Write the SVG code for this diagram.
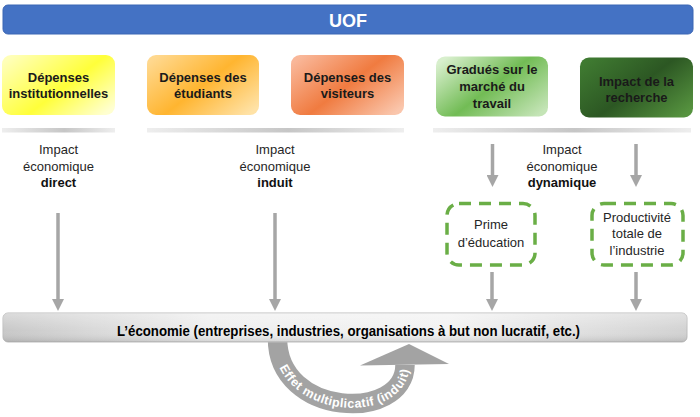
<svg xmlns="http://www.w3.org/2000/svg" width="700" height="417" viewBox="0 0 700 417">
  <style>
    .node-text { font-family: "Liberation Sans", Arial, sans-serif; font-weight: bold; font-size: 13px; fill: #1a1a1a; text-anchor: middle; }
    .lbl { font-family: "Liberation Sans", Arial, sans-serif; font-size: 13px; fill: #262626; text-anchor: middle; }
    .lbl-b { font-weight: bold; fill: #111; }
    .conn { stroke: #A6A6A6; stroke-width: 3.5; fill: none; }
    .dash { fill: #ffffff; stroke: #6AAE46; stroke-width: 3.5; stroke-dasharray: 12 8; }
  </style>
  <defs>
    <marker id="ah" viewBox="0 0 12 12" refX="6" refY="6" markerWidth="12" markerHeight="12" markerUnits="userSpaceOnUse" orient="auto">
      <path d="M0,0 L12,6 L0,12 Z" fill="#A6A6A6"/>
    </marker>
    <linearGradient id="gYellow" x1="0" y1="0.15" x2="1" y2="0.85">
      <stop offset="0" stop-color="#FFFFB8"/>
      <stop offset="0.55" stop-color="#FFFF3A"/>
      <stop offset="1" stop-color="#FFFFD0"/>
    </linearGradient>
    <linearGradient id="gOrange" x1="0" y1="0.15" x2="1" y2="0.85">
      <stop offset="0" stop-color="#FFD88E"/>
      <stop offset="0.5" stop-color="#FFB530"/>
      <stop offset="1" stop-color="#FFE2A6"/>
    </linearGradient>
    <linearGradient id="gRed" x1="0" y1="0.15" x2="1" y2="0.85">
      <stop offset="0" stop-color="#F9B799"/>
      <stop offset="0.5" stop-color="#F07B40"/>
      <stop offset="1" stop-color="#FAC6AC"/>
    </linearGradient>
    <linearGradient id="gLGreen" x1="0" y1="0.15" x2="1" y2="0.85">
      <stop offset="0" stop-color="#D8EFCD"/>
      <stop offset="0.5" stop-color="#72BC55"/>
      <stop offset="1" stop-color="#C4E4B6"/>
    </linearGradient>
    <linearGradient id="gDGreen" x1="0" y1="0.15" x2="1" y2="0.85">
      <stop offset="0" stop-color="#3F7A31"/>
      <stop offset="0.5" stop-color="#2C5723"/>
      <stop offset="1" stop-color="#56933F"/>
    </linearGradient>
    <linearGradient id="gSep" x1="0" y1="0" x2="1" y2="0">
      <stop offset="0" stop-color="#EEEEEE"/>
      <stop offset="0.55" stop-color="#C6C6C6"/>
      <stop offset="1" stop-color="#EEEEEE"/>
    </linearGradient>
    <linearGradient id="gBar" x1="0" y1="0" x2="1" y2="0">
      <stop offset="0" stop-color="#C8C8C8"/>
      <stop offset="0.3" stop-color="#EEEEEE"/>
      <stop offset="0.65" stop-color="#F2F2F2"/>
      <stop offset="1" stop-color="#D2D2D2"/>
    </linearGradient>
    <linearGradient id="gBarV" x1="0" y1="0" x2="0" y2="1">
      <stop offset="0" stop-color="#FFFFFF" stop-opacity="0.35"/>
      <stop offset="0.6" stop-color="#FFFFFF" stop-opacity="0"/>
      <stop offset="1" stop-color="#000000" stop-opacity="0.12"/>
    </linearGradient>
    <path id="curvePath" d="M 277.5 338 C 277 418, 405 422, 405 365"/>
  </defs>

  <rect width="700" height="417" fill="#ffffff"/>

  <!-- Title -->
  <g id="uof">
    <rect x="3" y="5" width="690" height="29" rx="5" fill="#4472C4" stroke="#3B66B4" stroke-width="1"/>
    <text x="348" y="26.5" font-family="Liberation Sans, Arial, sans-serif" font-weight="bold" font-size="18" fill="#ffffff" text-anchor="middle">UOF</text>
  </g>

  <!-- Top nodes -->
  <g id="dep-inst">
    <rect x="2" y="55" width="113" height="60" rx="9" fill="url(#gYellow)"/>
    <text class="node-text" x="58.5" y="82">Dépenses</text>
    <text class="node-text" x="58.5" y="98">institutionnelles</text>
  </g>
  <g id="dep-etud">
    <rect x="147" y="55" width="112" height="60" rx="9" fill="url(#gOrange)"/>
    <text class="node-text" x="203" y="82">Dépenses des</text>
    <text class="node-text" x="203" y="98">étudiants</text>
  </g>
  <g id="dep-vis">
    <rect x="291" y="55" width="113" height="60" rx="9" fill="url(#gRed)"/>
    <text class="node-text" x="347.5" y="82">Dépenses des</text>
    <text class="node-text" x="347.5" y="98">visiteurs</text>
  </g>
  <g id="gradues">
    <rect x="436" y="56.5" width="112" height="60" rx="9" fill="url(#gLGreen)"/>
    <text class="node-text" x="492" y="74">Gradués sur le</text>
    <text class="node-text" x="492" y="91">marché du</text>
    <text class="node-text" x="492" y="108">travail</text>
  </g>
  <g id="recherche">
    <rect x="580" y="57.5" width="113" height="60" rx="9" fill="url(#gDGreen)"/>
    <text class="node-text" x="636.5" y="86">Impact de la</text>
    <text class="node-text" x="636.5" y="102">recherche</text>
  </g>

  <!-- Separators -->
  <g id="separators">
    <rect x="2" y="128" width="113" height="4.5" fill="url(#gSep)"/>
    <rect x="147" y="128" width="257" height="4.5" fill="url(#gSep)"/>
    <rect x="433" y="128" width="258" height="4.5" fill="url(#gSep)"/>
  </g>

  <!-- Impact labels -->
  <g id="impact-direct">
    <text class="lbl" x="58.5" y="154">Impact</text>
    <text class="lbl" x="58.5" y="170.5">économique</text>
    <text class="lbl lbl-b" x="58.5" y="187">direct</text>
  </g>
  <g id="impact-induit">
    <text class="lbl" x="275" y="154">Impact</text>
    <text class="lbl" x="275" y="170.5">économique</text>
    <text class="lbl lbl-b" x="275" y="187">induit</text>
  </g>
  <g id="impact-dynamique">
    <text class="lbl" x="562" y="154">Impact</text>
    <text class="lbl" x="562" y="170.5">économique</text>
    <text class="lbl lbl-b" x="562" y="187">dynamique</text>
  </g>

  <!-- Dashed boxes -->
  <g id="prime">
    <rect class="dash" x="447" y="203.5" width="88" height="61.5" rx="12"/>
    <text class="lbl" x="491" y="229">Prime</text>
    <text class="lbl" x="491" y="246.5">d’éducation</text>
  </g>
  <g id="productivite">
    <rect class="dash" x="592" y="203.5" width="91" height="61.5" rx="12"/>
    <text class="lbl" x="637" y="221.5">Productivité</text>
    <text class="lbl" x="637" y="238">totale de</text>
    <text class="lbl" x="637" y="255">l’industrie</text>
  </g>

  <!-- Connectors -->
  <g id="connectors">
    <line class="conn" x1="58" y1="213" x2="58" y2="305" marker-end="url(#ah)"/>
    <line class="conn" x1="275" y1="213" x2="275" y2="305" marker-end="url(#ah)"/>
    <line class="conn" x1="492.5" y1="144" x2="492.5" y2="181" marker-end="url(#ah)"/>
    <line class="conn" x1="636" y1="144" x2="636" y2="181" marker-end="url(#ah)"/>
    <line class="conn" x1="492" y1="272" x2="492" y2="305" marker-end="url(#ah)"/>
    <line class="conn" x1="636" y1="272" x2="636" y2="305" marker-end="url(#ah)"/>
    <!-- Multiplier effect curved arrow -->
    <g id="multiplicateur">
      <use href="#curvePath" fill="none" stroke="#A3A3A3" stroke-width="19.5"/>
      <polygon points="360,365.5 409,344 449,364" fill="#A3A3A3"/>
      <text font-family="Liberation Sans, Arial, sans-serif" font-weight="bold" font-size="12.5" fill="#ffffff" dy="4.3">
        <textPath href="#curvePath" startOffset="28" textLength="152" lengthAdjust="spacing">Effet multiplicatif (induit)</textPath>
      </text>
    </g>
  </g>

  <!-- Economy bar -->
  <g id="economie">
    <rect x="3" y="313" width="684" height="29" rx="5" fill="url(#gBar)" stroke="#BDBDBD" stroke-width="1"/>
    <rect x="3" y="313" width="684" height="29" rx="5" fill="url(#gBarV)"/>
    <text x="348.5" y="336" font-family="Liberation Sans, Arial, sans-serif" font-weight="bold" font-size="14.5" fill="#000000" text-anchor="middle" textLength="463" lengthAdjust="spacingAndGlyphs">L’économie (entreprises, industries, organisations à but non lucratif, etc.)</text>
  </g>
</svg>
